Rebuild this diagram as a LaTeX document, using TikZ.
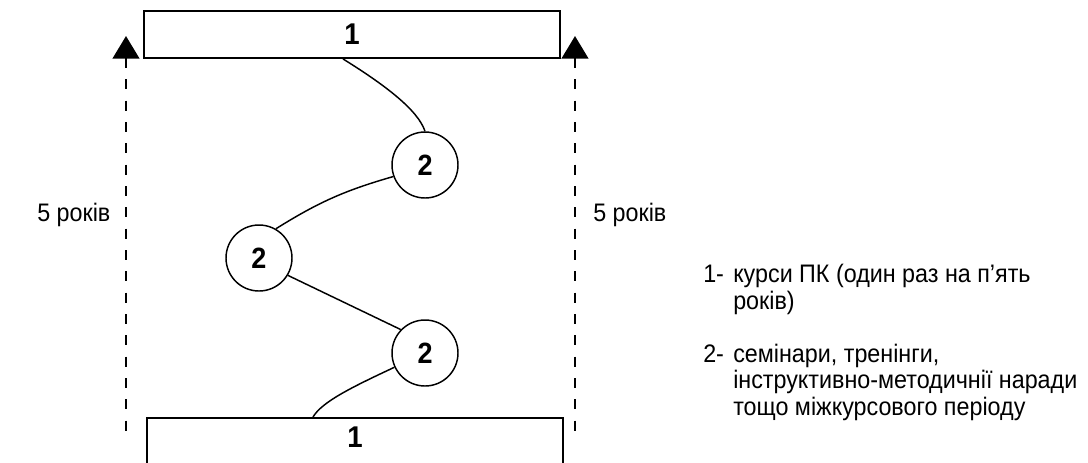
\documentclass[tikz,border=0pt]{standalone}
\usepackage{fontspec}
\setmainfont{Liberation Sans}[FakeStretch=0.92]
\usetikzlibrary{arrows.meta}
\begin{document}
\begin{tikzpicture}[x=0.75pt,y=-0.75pt,
  every node/.style={font=\fontsize{19}{22}\selectfont},
  box/.style={draw, line width=1.4pt, minimum width=312pt, inner xsep=0pt, font=\fontsize{22.5}{25}\selectfont\bfseries},
  circ/.style={draw, circle, line width=1.1pt, minimum size=49.5pt, inner sep=0pt, font=\fontsize{22}{25}\selectfont\bfseries},
  link/.style={line width=1.1pt},
  period/.style={line width=1.8pt, dash pattern=on 7.5pt off 8.5pt, {Triangle[width=20pt,length=17pt]}-},
  txt/.style={inner sep=0pt}]
\useasboundingbox (0,0) rectangle (1088,462);
\clip (0,0) rectangle (1088,462);
% boxes
\node[box, minimum height=35.25pt] (top) at (352,34.5) {1};
\node[box, anchor=north, text height=16pt, text depth=60pt, inner ysep=6pt] (bot) at (355,417) {1};
% circles
\node[circ] (c1) at (425,165) {2};
\node[circ] (c2) at (259,258) {2};
\node[circ] (c3) at (425,353) {2};
% connectors
\draw[link] ([xshift=-6.75pt]top.south) .. controls (385,85) and (418,110) .. (c1.north);
\draw[link] (c1.200) to[bend right=8] (c2.60);
\draw[link] (c2.329) -- (c3.136);
\draw[link] (c3.205) .. controls (350,388) and (322,402) .. ([xshift=-31.5pt]bot.north);
% period arrows
\coordinate (lb) at (126,432);
\coordinate (lt) at (126,36);
\coordinate (rb) at (575,432);
\coordinate (rt) at (575,36);
\draw[period] (lt) -- (lb);
\draw[period] (rt) -- (rb);
% period labels
\node[txt, anchor=west] (l5) at (37,215) {5 років};
\node[txt, anchor=west] (r5) at (593,215) {5 років};
% legend
\node[txt, anchor=base west] (n1) at (703,282) {1-};
\node[txt, anchor=base west] (t1a) at (733,282) {курси ПК (один раз на п’ять};
\node[txt, anchor=base west] (t1b) at (733,309) {років)};
\node[txt, anchor=base west] (n2) at (703,362) {2-};
\node[txt, anchor=base west] (t2a) at (733,362) {семінари, тренінги,};
\node[txt, anchor=base west] (t2b) at (733,388) {інструктивно-методичнії наради};
\node[txt, anchor=base west] (t2c) at (733,415) {тощо міжкурсового періоду};
\end{tikzpicture}
\end{document}
